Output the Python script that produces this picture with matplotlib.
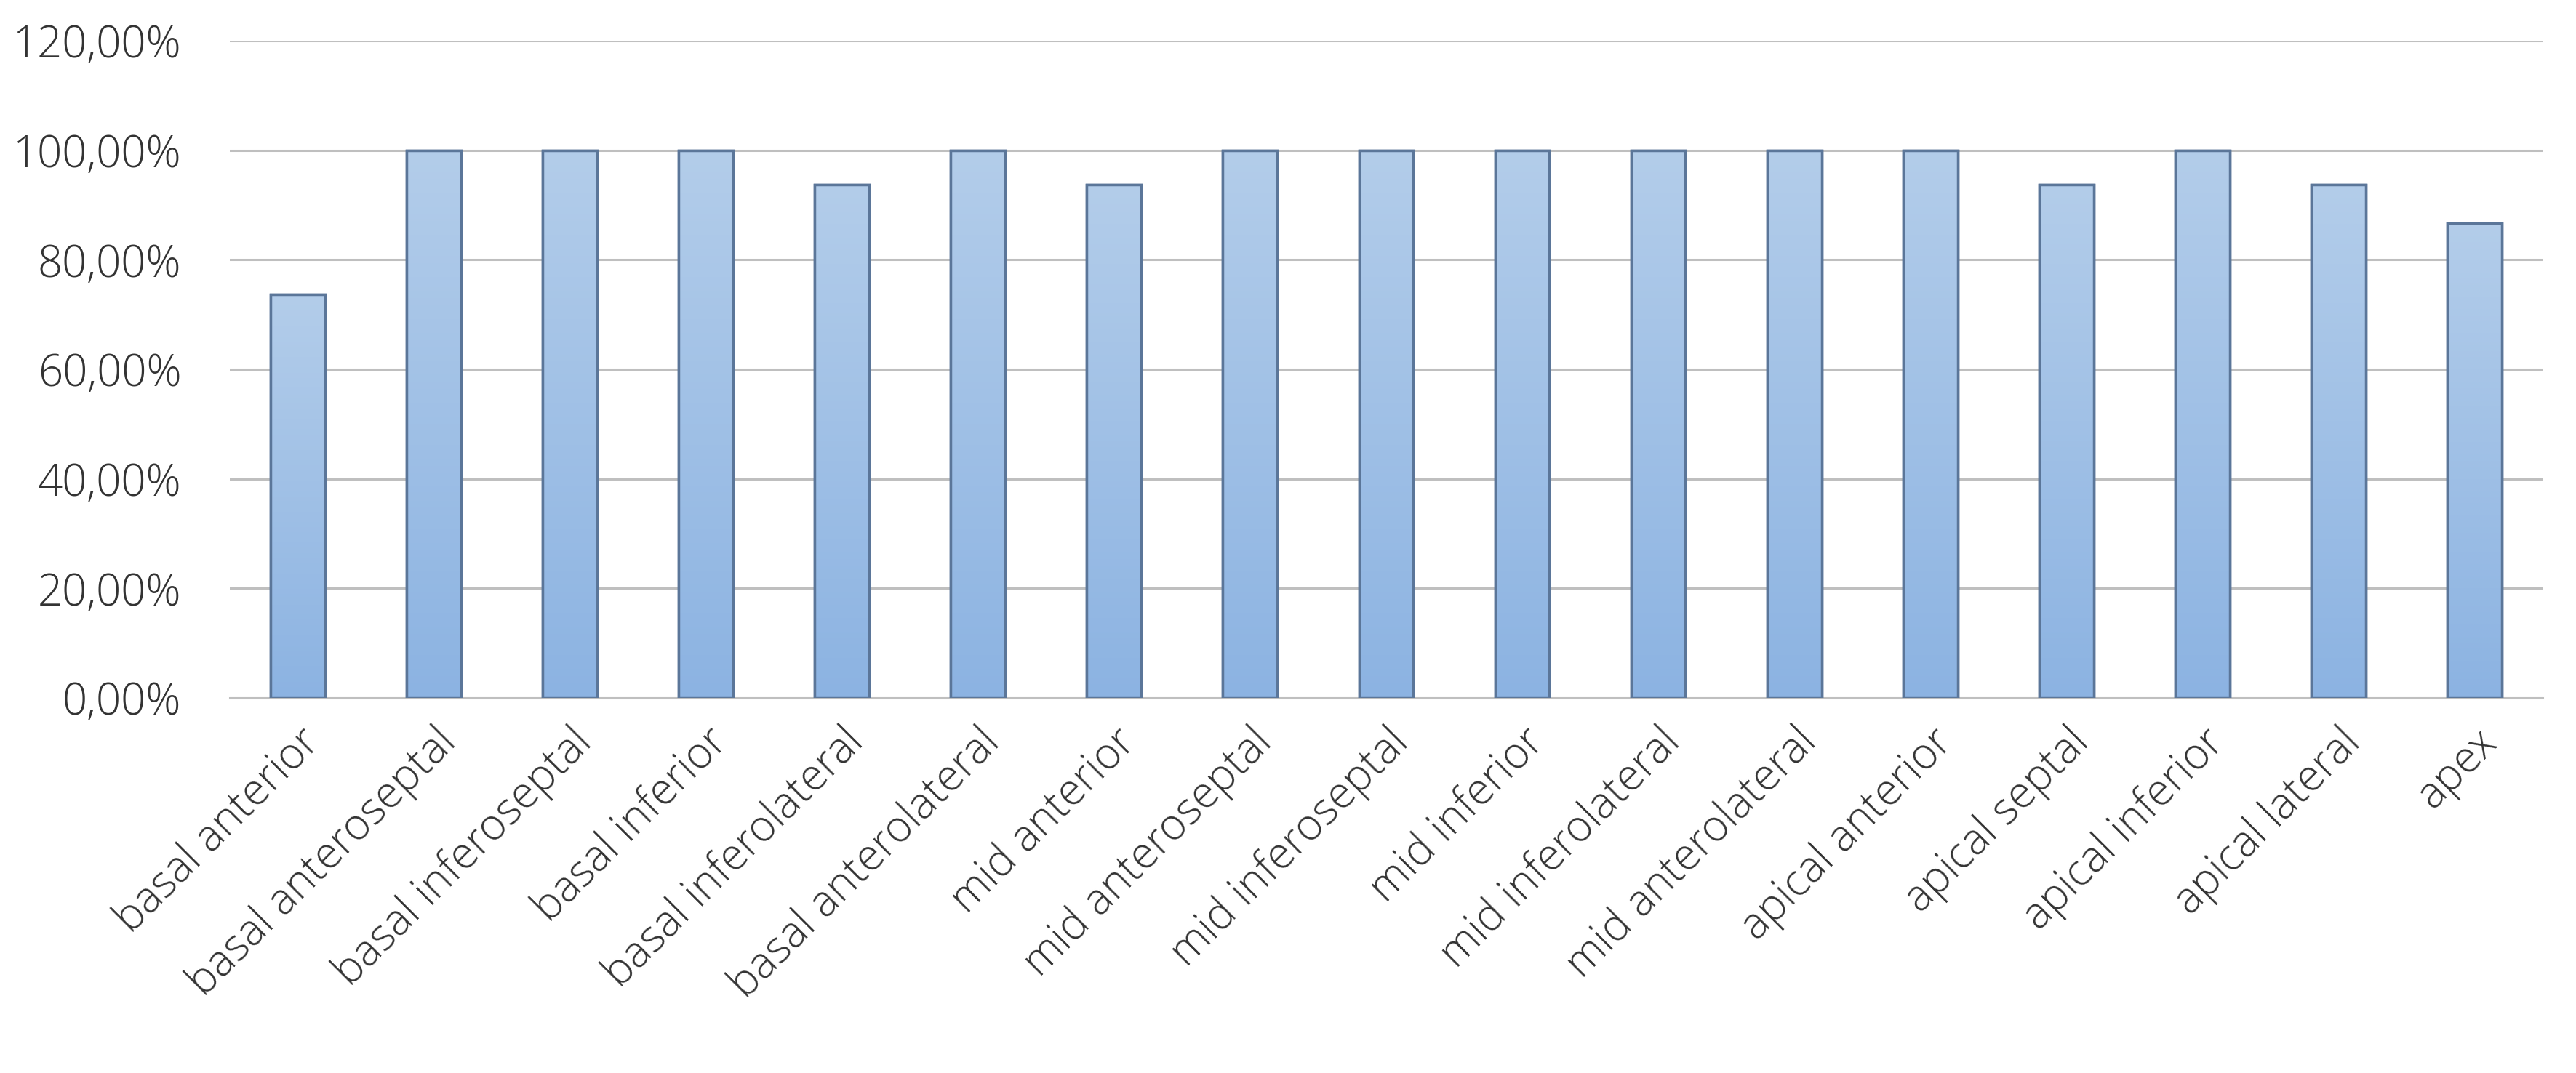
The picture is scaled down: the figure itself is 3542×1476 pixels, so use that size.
import matplotlib
matplotlib.use("Agg")
import matplotlib.pyplot as plt
import numpy as np
from matplotlib.colors import LinearSegmentedColormap

categories = ["basal anterior", "basal anteroseptal", "basal inferoseptal", "basal inferior",
              "basal inferolateral", "basal anterolateral", "mid anterior", "mid anteroseptal",
              "mid inferoseptal", "mid inferior", "mid inferolateral", "mid anterolateral",
              "apical anterior", "apical septal", "apical inferior", "apical lateral", "apex"]
values = [73.68, 100, 100, 100, 93.75, 100, 93.75, 100, 100, 100, 100, 100, 100, 93.75, 100, 93.75, 86.67]
yticks = [0, 20, 40, 60, 80, 100, 120]
ytick_labels = ["0,00%", "20,00%", "40,00%", "60,00%", "80,00%", "100,00%", "120,00%"]

plt.rcParams['font.family'] = ['Open Sans', 'DejaVu Sans']

fig = plt.figure(figsize=(35.42, 14.76), dpi=100)
ax = fig.add_axes([0.0892, 0.3496, 0.8978, 0.6124])

x = np.arange(len(categories))
bars = ax.bar(x, values, width=0.4, color='#9DBDE4', edgecolor='#5B7699', linewidth=2.5, zorder=3)

cmap = LinearSegmentedColormap.from_list('g', ['#8CB3E2', '#B3CDEA'])
grad = np.linspace(0, 1, 256).reshape(-1, 1)
for b in bars:
    bx, by = b.get_x(), b.get_y()
    w, h = b.get_width(), b.get_height()
    im = ax.imshow(grad, cmap=cmap, aspect='auto', origin='lower',
                   extent=[bx, bx + w, by, by + h], zorder=3.5)
    im.set_clip_path(b)
    ax.bar(bx + w / 2, h, width=w, fill=False, edgecolor='#5B7699', linewidth=2.5, zorder=4)

ax.set_xlim(-0.5, len(categories) - 0.5)
ax.set_ylim(0, 120)
ax.set_yticks(yticks)
ax.set_yticklabels(ytick_labels)
ax.yaxis.grid(True, color='#BFBFBF', linewidth=2.2, zorder=0)
ax.set_axisbelow(True)
for s in ['top', 'right', 'left']:
    ax.spines[s].set_visible(False)
ax.spines['bottom'].set_color('#BFBFBF')
ax.spines['bottom'].set_linewidth(2.2)
ax.tick_params(axis='both', length=0, labelsize=43, colors='#333333')
ax.tick_params(axis='x', pad=22)
ax.tick_params(axis='y', pad=48)
ax.set_xticks(x)
ax.set_xticklabels(categories, rotation=45, ha='right', rotation_mode='anchor', fontweight='light')
for t in ax.get_yticklabels():
    t.set_fontweight('light')

fig.savefig('out.png', dpi=100, facecolor='white')
